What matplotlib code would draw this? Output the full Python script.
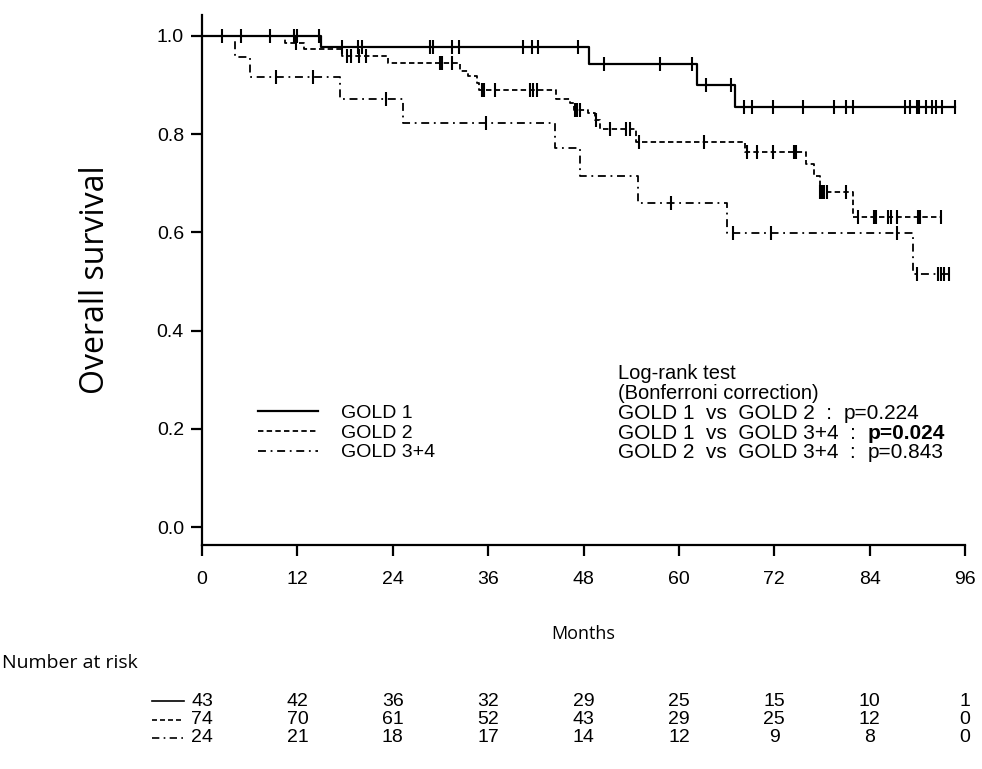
import numpy as np
import matplotlib
matplotlib.use("Agg")
import matplotlib.pyplot as plt
from matplotlib.lines import Line2D
from matplotlib.transforms import blended_transform_factory

# ============================================================
# DATA
# ============================================================

group_labels = ["GOLD 1", "GOLD 2", "GOLD 3+4"]

gold1_times = [0, 15.0, 48.7, 62.3, 67.0, 94.8]
gold1_surv = [1.0, 0.977, 0.943, 0.900, 0.855, 0.855]
gold1_censor = [2.5, 4.9, 8.6, 11.6, 11.9, 14.7, 17.6, 19.6, 20.1, 28.7, 29.1,
                31.4, 32.3, 40.4, 41.5, 42.3, 47.3, 50.6, 57.6, 61.6, 63.4, 66.5,
                68.2, 69.2, 71.8, 75.6, 79.5, 81.0, 81.9, 88.4, 89.1, 90.0, 90.2,
                91.1, 91.8, 92.4, 93.1, 94.8]

gold2_times = [0, 10.4, 12.8, 17.6, 23.4, 32.4, 33.5, 34.6, 34.9, 44.6, 46.3,
               46.8, 48.6, 49.4, 50.1, 54.6, 68.3, 76.0, 77.0, 77.7, 81.9, 93.0]
gold2_surv = [1.0, 0.986, 0.973, 0.959, 0.944, 0.929, 0.918, 0.904, 0.890,
              0.871, 0.864, 0.849, 0.843, 0.829, 0.810, 0.785, 0.763, 0.739,
              0.715, 0.683, 0.632, 0.632]
gold2_censor = [11.8, 18.2, 18.8, 19.8, 20.6, 29.9, 30.2, 31.4, 35.2, 35.5, 36.9,
                41.3, 41.7, 42.1, 46.9, 47.2, 47.5, 49.6, 51.3, 53.4, 53.9, 55.0,
                63.1, 68.6, 69.8, 71.9, 74.5, 74.7, 77.8, 78.0, 78.3, 78.6, 81.0,
                82.6, 84.5, 84.8, 86.3, 86.7, 87.4, 90.1, 90.3, 93.0]

gold34_times = [0, 4.2, 6.0, 17.4, 25.3, 44.4, 47.5, 54.8, 66.1, 89.4, 94.0]
gold34_surv = [1.0, 0.958, 0.917, 0.871, 0.822, 0.771, 0.715, 0.659, 0.598,
               0.515, 0.515]
gold34_censor = [9.3, 14.0, 23.2, 35.7, 59.0, 66.8, 71.6, 87.5, 89.9, 92.6,
                 93.0, 93.3, 94.0]

risk_months = [0, 12, 24, 36, 48, 60, 72, 84, 96]
risk_gold1 = [43, 42, 36, 32, 29, 25, 15, 10, 1]
risk_gold2 = [74, 70, 61, 52, 43, 29, 25, 12, 0]
risk_gold34 = [24, 21, 18, 17, 14, 12, 9, 8, 0]

pvalue_lines = [
    ("GOLD 1  vs  GOLD 2  :  ", "p=0.224", False),
    ("GOLD 1  vs  GOLD 3+4  :  ", "p=0.024", True),
    ("GOLD 2  vs  GOLD 3+4  :  ", "p=0.843", False),
]

# ============================================================
# STYLE
# ============================================================

W, H = 982, 769
plt.rcParams["font.family"] = ["Liberation Sans", "DejaVu Sans"]
label_font = ["Open Sans", "DejaVu Sans"]
fs = 14

styles = [
    dict(linestyle="-", linewidth=1.6),
    dict(linestyle=(0, (3.0, 1.8)), linewidth=1.3),
    dict(linestyle=(0, (4.4, 2.6, 1.0, 2.6)), linewidth=1.3),
]

fig = plt.figure(figsize=(W / 100, H / 100), dpi=100)

x0, x1 = 202, 965
y_top, y_axis = 15, 545
ax = fig.add_axes([x0 / W, 1 - y_axis / H, (x1 - x0) / W, (y_axis - y_top) / H])

# y: 1.0 at px 36, 0.0 at px 527
px_per_unit = 527 - 36
ax.set_xlim(0, 96)
ax.set_ylim(-(y_axis - 527) / px_per_unit, 1 + (36 - y_top) / px_per_unit)

# ============================================================
# KAPLAN-MEIER CURVES
# ============================================================

curves = [
    (gold1_times, gold1_surv, gold1_censor),
    (gold2_times, gold2_surv, gold2_censor),
    (gold34_times, gold34_surv, gold34_censor),
]

handles = []
for (t, s, c), st, lab in zip(curves, styles, group_labels):
    t = np.array(t)
    s = np.array(s)
    line, = ax.step(t, s, where="post", color="black", label=lab, **st)
    handles.append(line)
    idx = np.searchsorted(t, c, side="right") - 1
    ax.plot(c, s[idx], linestyle="none", marker="|", markersize=9.5,
            markeredgewidth=1.5, color="black")

# ============================================================
# AXES
# ============================================================

for side in ["top", "right"]:
    ax.spines[side].set_visible(False)
for side in ["left", "bottom"]:
    ax.spines[side].set_linewidth(1.6)

ax.set_xticks(risk_months)
ax.set_yticks([0, 0.2, 0.4, 0.6, 0.8, 1.0])
ax.set_yticklabels([f"{v:.1f}" for v in [0, 0.2, 0.4, 0.6, 0.8, 1.0]])
ax.tick_params(axis="both", direction="out", length=8, width=1.6,
               labelsize=fs)
ax.tick_params(axis="x", pad=11)
ax.tick_params(axis="y", pad=5)

fig.text(96 / W, 1 - 280 / H, "Overall survival", fontsize=23,
         family=label_font, rotation=90, ha="center", va="center")
fig.text(583 / W, 1 - 634 / H, "Months", fontsize=13, family=label_font,
         ha="center", va="center")

ax.legend(handles=handles, loc="upper left",
          bbox_to_anchor=(258 / W, 1 - 404 / H),
          bbox_transform=fig.transFigure, frameon=False, fontsize=fs,
          handlelength=3.1, handletextpad=1.15, labelspacing=0.12,
          borderpad=0, borderaxespad=0)

# log-rank annotation
tx = 618 / W
fig.text(tx, 1 - 374 / H, "Log-rank test", fontsize=14.5, va="center")
fig.text(tx, 1 - 394 / H, "(Bonferroni correction)", fontsize=14.5,
         va="center")
for i, (head, pval, bold) in enumerate(pvalue_lines):
    t = fig.text(tx, 1 - (413.5 + 19.7 * i) / H, head, fontsize=15,
                 va="center")
    ax.annotate(pval, xy=(1, 0.5), xycoords=t, va="center", ha="left",
                fontsize=15, fontweight="bold" if bold else "normal")

# ============================================================
# NUMBER AT RISK TABLE
# ============================================================

fig.text(2 / W, 1 - 663 / H, "Number at risk", fontsize=14, family=label_font,
         va="center", ha="left")

trans = blended_transform_factory(ax.transData, fig.transFigure)
row_y = [701, 719.5, 738]
for row, st, yy in zip([risk_gold1, risk_gold2, risk_gold34], styles, row_y):
    fig.add_artist(Line2D([152 / W, 184 / W], [1 - yy / H, 1 - yy / H],
                          color="black", transform=fig.transFigure,
                          linestyle=st["linestyle"], linewidth=1.2))
    for m, n in zip(risk_months, row):
        ax.text(m, 1 - yy / H, str(n), transform=trans, ha="center",
                va="center", fontsize=14, clip_on=False)

fig.savefig("out.png", dpi=100)
